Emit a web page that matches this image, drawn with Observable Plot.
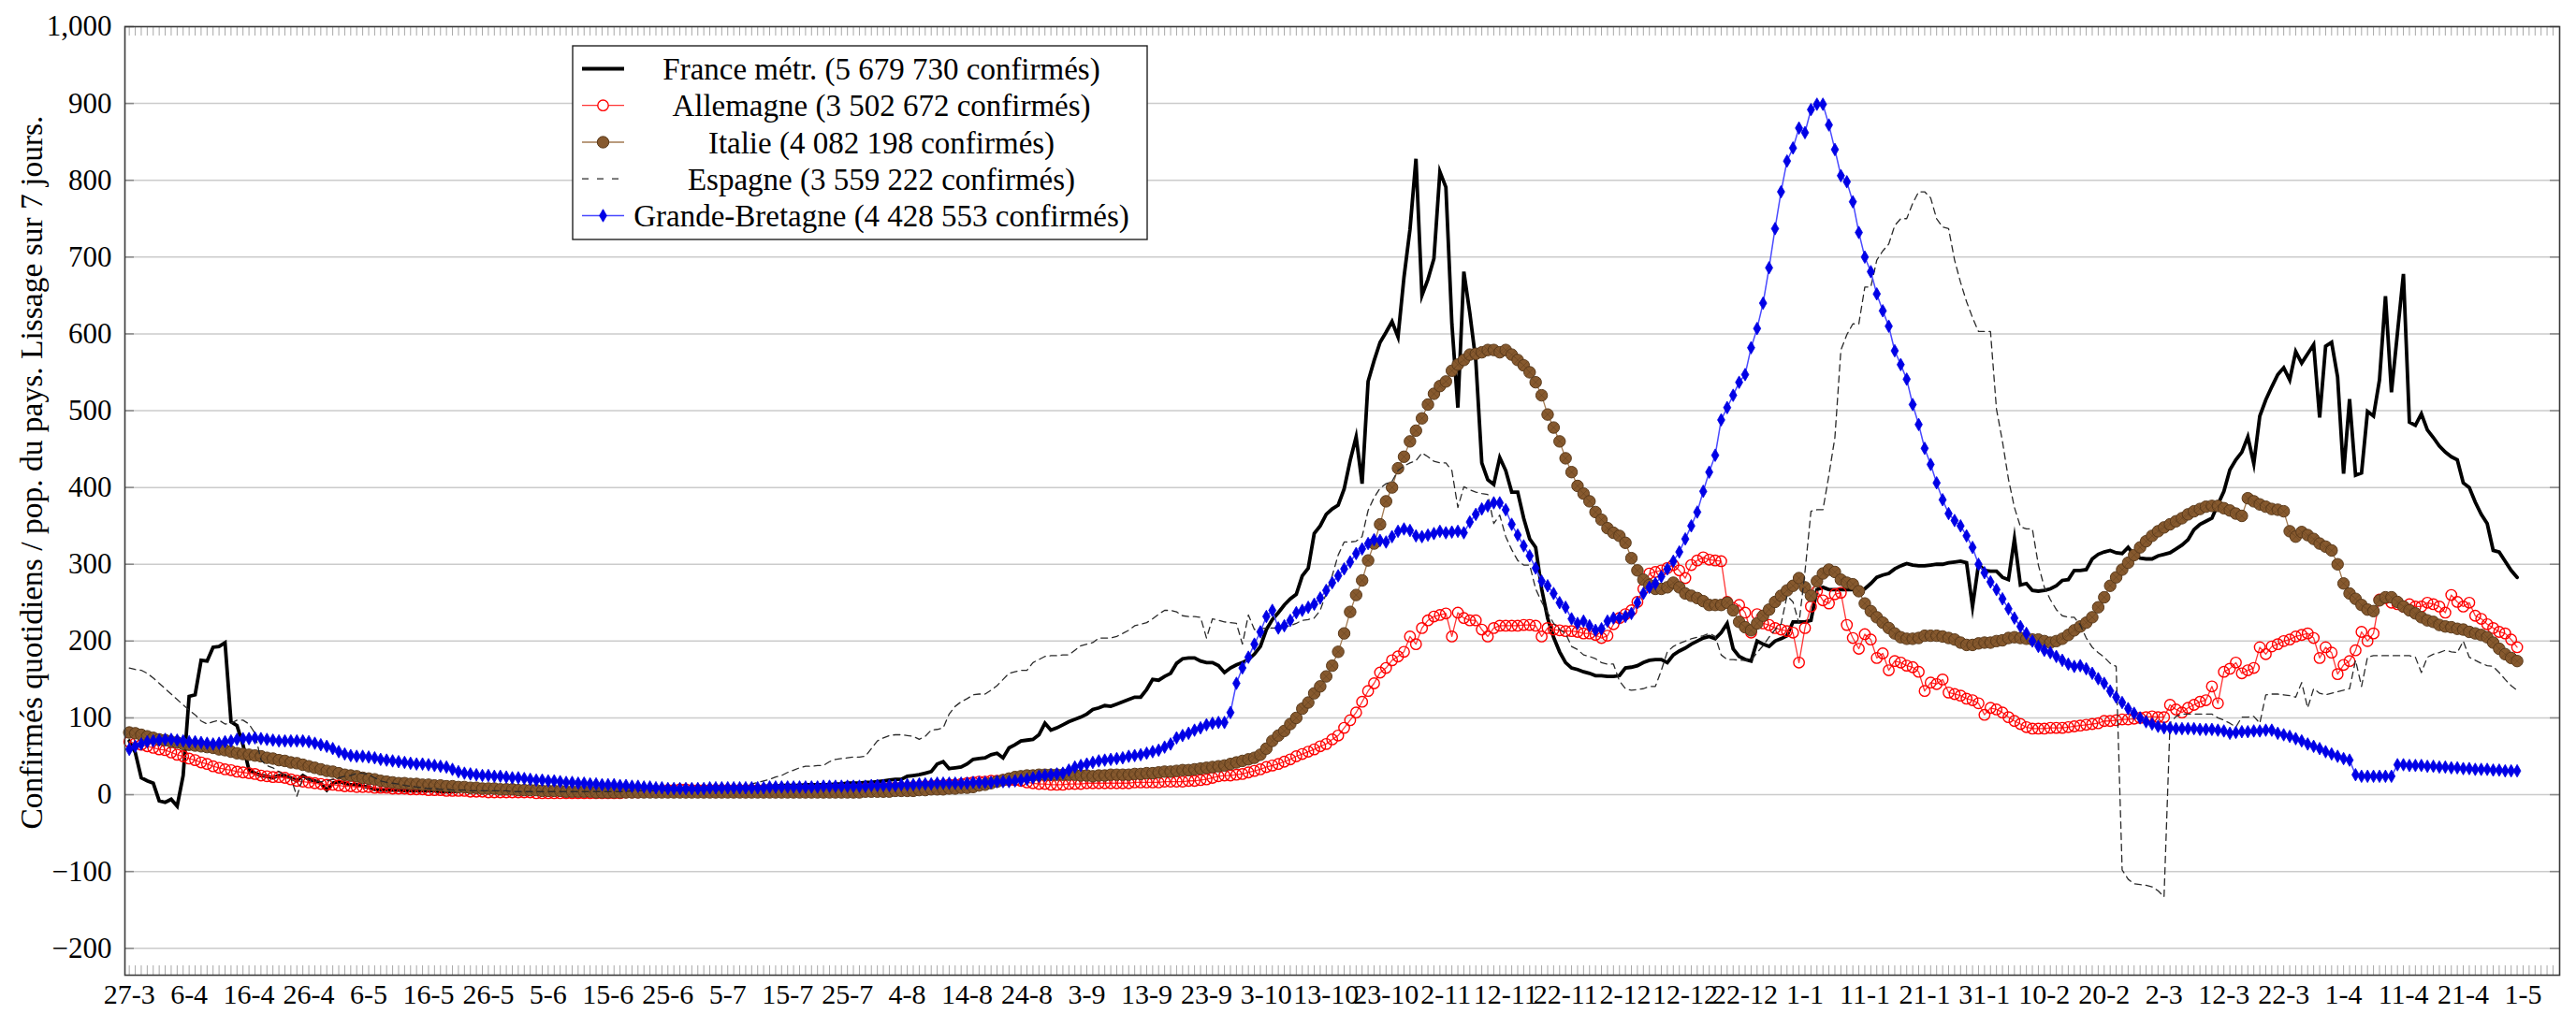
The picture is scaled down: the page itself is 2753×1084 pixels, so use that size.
<!DOCTYPE html>
<html>
<head>
<meta charset="utf-8">
<script src="https://cdn.jsdelivr.net/npm/d3@7"></script>
<script src="https://cdn.jsdelivr.net/npm/@observablehq/plot@0.6"></script>
<style>
  html, body { margin: 0; padding: 0; background: #fff; }
  #chart svg { display: block; }
</style>
</head>
<body>
<div id="chart"></div>
<script>
// ---- x tick labels (one every 10 days from 27-3-2020) ----
const xTickLabels = ["27-3","6-4","16-4","26-4","6-5","16-5","26-5","5-6","15-6","25-6","5-7","15-7","25-7","4-8","14-8","24-8","3-9","13-9","23-9","3-10","13-10","23-10","2-11","12-11","22-11","2-12","12-12","22-12","1-1","11-1","21-1","31-1","10-2","20-2","2-3","12-3","22-3","1-4","11-4","21-4","1-5"];
const yTicks = [-200,-100,0,100,200,300,400,500,600,700,800,900,1000];

const seriesNames = [
  "France métr. (5 679 730 confirmés)",
  "Allemagne (3 502 672 confirmés)",
  "Italie (4 082 198 confirmés)",
  "Espagne (3 559 222 confirmés)",
  "Grande-Bretagne (4 428 553 confirmés)"
];

// ---- daily values (per million, 7-day smoothing), day 0 = 27-3-2020 ----
const france = [
70,55,22,18,15,-8,-10,-6,-15,25,
128,130,175,174,192,193,198,95,90,65,
32,28,25,24,22,25,25,22,18,25,
20,18,15,6,15,17,15,13,13,11,
10,7,6,6,6,6,5,5,5,5,
5,5,4,4,4,5,5,4,4,4,
5,5,4,4,4,4,3,3,3,3,
3,3,3,3,3,3,3,3,3,3,
3,3,3,4,4,4,4,4,5,5,
5,5,6,6,6,7,7,7,8,8,
8,9,9,10,10,10,11,11,11,12,
12,12,12,13,13,13,13,13,14,14,
15,15,15,16,16,17,18,19,20,20,
24,25,26,28,30,40,43,34,35,36,
40,46,47,48,52,54,48,61,65,70,
71,72,78,93,84,87,91,95,98,101,
105,111,113,116,115,118,121,124,127,127,
137,150,149,154,158,171,177,178,178,174,
172,172,168,159,165,169,172,176,183,193,
215,228,237,247,255,261,285,295,340,350,
365,372,377,398,435,466,405,538,565,589,
602,616,596,674,736,828,650,671,698,811,
791,613,504,681,627,565,432,410,404,439,
422,394,394,360,333,322,268,230,205,186,
172,165,163,160,158,155,155,154,154,155,
165,166,168,172,175,176,176,172,182,187,
191,196,200,204,206,203,211,223,190,180,
176,174,200,196,193,200,203,207,225,225,
225,227,267,270,267,267,267,267,267,267,
268,275,283,286,288,294,298,301,299,298,
298,299,300,300,302,303,304,302,245,300,
292,291,291,283,280,333,273,275,266,265,
266,268,272,279,280,292,292,293,307,313,
316,318,315,314,322,312,308,307,307,311,
313,315,320,325,332,345,352,356,360,378,
395,423,436,446,466,431,493,514,531,547,
556,540,577,562,574,586,491,584,589,544,
418,515,416,419,499,493,540,649,524,601,
678,485,481,496,475,465,454,446,440,436,
406,400,381,365,353,318,316,304,292,283
];

const allemagne = [
69,67,65,63,61,59,58,55,52,50,
47,45,42,40,37,35,33,32,30,29,
28,27,25,24,23,23,22,20,18,17,
16,15,14,13,13,12,11,11,10,10,
10,9,9,9,8,8,8,7,7,7,
6,6,6,5,5,5,5,4,4,4,
3,3,3,3,3,3,3,3,2,2,
2,2,2,2,2,2,2,2,2,2,
2,2,2,3,3,3,4,4,5,5,
6,6,7,7,6,6,6,6,6,6,
6,6,6,6,6,6,6,6,6,6,
6,6,6,6,6,6,6,6,7,7,
7,7,7,8,8,8,8,9,9,9,
9,10,10,11,11,12,12,13,13,14,
15,16,17,17,18,18,19,19,19,18,
16,15,14,14,13,13,13,14,14,14,
15,15,15,15,15,15,15,15,16,16,
16,16,16,17,17,17,17,18,18,19,
20,22,24,25,25,26,27,29,31,33,
36,38,40,43,46,50,53,56,59,63,
66,72,77,87,97,107,121,135,145,159,
165,175,180,186,206,196,217,227,232,234,
236,206,237,230,227,227,215,206,217,220,
220,220,220,221,221,220,206,217,215,214,
213,213,212,210,210,208,204,207,222,230,
235,240,251,268,288,290,292,295,299,292,
282,299,305,309,306,305,304,251,243,247,
237,211,235,223,221,217,215,213,211,172,
217,245,265,253,249,261,263,221,204,190,
209,202,178,184,162,174,172,168,166,160,
135,146,144,150,133,131,129,125,123,119,
104,113,111,107,101,96,92,88,86,86,
86,87,87,87,88,89,90,91,92,93,
96,96,97,98,98,99,100,101,102,101,
101,117,111,107,113,117,121,123,141,119,
160,164,172,158,162,165,192,183,193,196,
200,202,206,208,210,204,178,192,185,157,
169,174,188,212,200,210,254,256,250,248,
245,248,245,245,250,248,245,237,260,251,
245,250,233,229,222,217,212,210,202,192
];

const italie = [
81,80,78,76,74,72,71,69,68,66,
65,64,63,62,61,59,58,56,54,53,
52,51,50,48,47,45,44,42,41,39,
37,35,33,31,30,28,26,25,24,22,
21,20,18,17,16,15,15,14,14,13,
13,12,12,11,11,10,10,9,9,8,
8,8,7,7,7,6,6,6,6,5,
5,5,5,4,4,4,4,4,3,3,
3,3,3,3,3,3,3,3,3,3,
3,3,3,3,3,3,3,3,3,3,
3,3,3,3,3,3,3,3,3,3,
3,3,3,3,3,3,3,3,3,3,
3,3,3,4,4,4,4,4,5,5,
5,5,6,6,7,7,7,8,8,9,
9,10,12,13,15,17,19,21,23,24,
25,25,26,26,26,26,26,26,26,25,
25,24,25,25,26,26,26,26,27,27,
28,28,29,30,30,31,32,32,33,34,
35,36,37,38,40,42,44,46,48,52,
60,70,77,83,92,100,112,120,132,141,
154,168,186,210,238,260,279,305,327,352,
382,400,425,440,460,474,490,508,522,532,
538,552,560,566,573,574,576,579,579,576,
579,573,566,559,550,537,520,495,478,460,
438,420,402,392,382,368,358,347,341,337,
328,308,292,280,273,268,268,270,276,270,
262,259,256,252,247,247,247,250,240,225,
218,214,223,233,241,251,259,266,272,282,
270,259,278,288,293,290,280,276,274,265,
249,239,231,224,217,210,205,203,203,204,
207,207,207,206,204,202,198,195,195,197,
198,198,200,201,204,205,204,203,202,202,
200,198,200,203,208,214,219,224,231,244,
257,272,283,293,302,312,322,330,337,343,
348,352,356,360,365,369,372,375,376,376,
373,370,366,363,386,382,378,375,372,371,
369,343,336,342,338,333,327,323,318,300,
275,262,255,247,241,239,253,257,257,251,
245,240,236,231,227,225,221,219,218,216,
215,212,210,208,205,198,190,183,178,174
];

const espagne = [
165,163,162,158,152,145,138,131,124,117,
110,104,96,92,95,97,92,93,97,97,
92,80,45,38,35,30,25,22,-2,22,
20,18,17,18,20,22,24,25,28,28,
26,22,18,16,15,14,12,11,10,9,
8,8,7,7,6,6,6,5,5,5,
5,5,5,5,4,4,4,4,4,4,
4,4,4,4,4,4,4,4,4,4,
4,4,4,4,5,5,5,5,5,5,
5,5,5,5,5,5,6,6,6,6,
8,9,10,12,14,16,18,20,23,25,
29,32,35,37,37,38,38,43,46,47,
48,49,49,50,60,70,74,77,78,78,
77,76,72,76,84,85,87,105,115,121,
125,130,131,131,136,142,150,158,160,162,
162,172,176,180,181,181,182,182,188,194,
196,198,204,204,204,206,210,214,220,222,
224,229,235,240,240,238,233,232,232,231,
204,229,227,225,224,223,196,234,215,216,
217,217,217,218,220,223,227,228,230,240,
262,285,312,329,329,330,336,370,387,399,
405,408,422,428,432,435,445,440,434,432,
432,422,374,401,397,394,392,391,353,364,
336,319,305,299,299,268,251,237,223,215,
210,193,189,182,180,177,172,170,170,148,
138,136,137,138,141,141,162,186,193,197,
200,203,205,207,210,206,182,176,176,175,
175,175,185,194,205,215,222,259,251,223,
290,369,371,371,416,465,579,599,613,613,
661,661,696,708,717,741,750,750,770,785,
785,777,750,739,737,696,667,642,621,603,
603,603,502,460,411,374,349,346,346,299,
270,254,241,233,231,231,221,204,192,185,
179,171,167,-98,-110,-116,-117,-118,-120,-125,
-133,93,102,105,105,105,105,105,105,100,
97,93,88,101,101,102,93,130,131,131,
130,129,127,146,113,138,132,130,132,134,
136,138,175,141,179,181,181,181,181,181,
181,181,179,159,179,183,185,188,186,185,
200,179,175,171,168,167,159,150,142,136
];

const grandeBretagne = [
59,63,66,69,70,71,72,72,71,70,
69,69,68,67,66,67,69,70,72,73,
73,74,73,72,71,70,70,70,70,70,
69,67,65,63,60,56,53,51,50,50,
49,48,46,45,44,43,42,41,40,40,
39,38,37,36,33,30,28,27,26,25,
25,24,24,23,22,22,21,20,19,19,
18,18,17,16,16,15,15,14,14,13,
13,13,12,12,11,11,10,10,9,9,
8,8,8,8,8,8,8,9,9,9,
9,9,9,9,9,9,9,10,10,10,
10,10,10,10,10,10,11,11,11,11,
11,11,11,11,12,12,12,12,12,13,
13,13,14,14,14,15,15,15,15,15,
15,16,16,16,16,17,17,17,18,19,
20,22,24,25,26,27,28,32,36,38,
40,42,44,45,46,47,48,50,51,52,
54,56,58,62,66,74,77,80,84,87,
91,93,94,94,107,145,165,179,196,212,
232,240,217,220,227,237,240,244,248,256,
266,276,285,294,303,314,320,327,332,331,
329,336,343,346,344,337,336,338,340,343,
341,342,343,341,355,365,372,376,380,380,
371,352,338,324,311,295,278,272,262,250,
244,229,223,226,220,214,216,226,230,230,
232,236,250,262,270,275,284,294,304,316,
333,350,368,395,420,442,488,504,520,537,
547,582,607,640,686,737,785,825,842,868,
862,892,899,899,872,840,806,798,772,732,
700,681,652,630,610,578,560,541,508,482,
451,430,406,384,366,357,350,337,322,300,
289,277,267,255,242,230,219,210,200,193,
188,185,180,175,170,167,168,164,158,151,
145,135,127,120,112,106,100,95,92,89,
87,87,86,86,86,86,85,85,85,84,
83,80,81,82,82,83,83,84,84,80,
78,76,73,70,66,63,60,56,53,50,
47,45,26,24,24,24,24,24,24,39,
39,38,38,38,37,37,36,36,35,35,
34,34,33,33,33,32,32,31,31,31
];

const lens = [france, allemagne, italie, espagne, grandeBretagne].map(a => a.length);
if (lens.some(n => n !== 400)) throw new Error("series lengths: " + lens.join(","));

const days = d3.range(400);
const xTicks = d3.range(0, 401, 10);
const minorTicks = d3.range(0, 406);

const W = 2753, H = 1084;
const mL = 133, mR = 18, mT = 28, mB = 42;
const plotW = W - mL - mR, plotH = H - mT - mB;

const serif = "'Liberation Serif', 'Times New Roman', serif";
const colors = {
  france: "#000000",
  deLine: "#ff3535", deMark: "#ff0000",
  itLine: "#a27a52", itFill: "#86592e", itEdge: "#5a3a1b",
  es: "#2a2a2a",
  gbLine: "#4a4aff", gbMark: "#0000e6"
};
const gbR = 4.1;

const chart = Plot.plot({
  width: W, height: H,
  marginLeft: mL, marginRight: mR, marginTop: mT, marginBottom: mB,
  x: {type: "linear", domain: [-0.73, 406.1]},
  y: {domain: [-235, 1000]},
  style: {fontFamily: serif, fontSize: "30px", background: "#fff", color: "#000"},
  marks: [
    // horizontal grid
    Plot.ruleY(yTicks.filter(v => v < 1000), {y: d => d, stroke: "#cbcbcb", strokeWidth: 1.5}),
    // minor daily ticks (bottom and top, inward)
    Plot.ruleX(minorTicks, {x: d => d, insetTop: plotH - 10, stroke: "#a8a8a8", strokeWidth: 1}),
    Plot.ruleX(minorTicks, {x: d => d, insetBottom: plotH - 10, stroke: "#a8a8a8", strokeWidth: 1}),
    // y ticks (left and right, inward)
    Plot.ruleY(yTicks, {y: d => d, insetRight: plotW - 10, stroke: "#888", strokeWidth: 1.5}),
    Plot.ruleY(yTicks, {y: d => d, insetLeft: plotW - 10, stroke: "#888", strokeWidth: 1.5}),
    // axes labels
    Plot.axisX({ticks: xTicks, anchor: "bottom", tickSize: 0, tickPadding: 9,
      tickFormat: d => xTickLabels[Math.round(d / 10)], label: null, fontSize: 30}),
    Plot.axisY({ticks: yTicks, anchor: "left", tickSize: 0, tickPadding: 14,
      tickFormat: d3.format(","), label: null, fontSize: 31}),
    // France
    Plot.line(days, {x: d => d, y: d => france[d], stroke: colors.france, strokeWidth: 3.8,
      strokeLinejoin: "miter", strokeMiterlimit: 10}),
    // Allemagne
    Plot.line(days, {x: d => d, y: d => allemagne[d], stroke: colors.deLine, strokeWidth: 1.3}),
    Plot.dot(days, {x: d => d, y: d => allemagne[d], r: 5.7, stroke: colors.deMark, strokeWidth: 1.4, fill: "none"}),
    // Italie
    Plot.line(days, {x: d => d, y: d => italie[d], stroke: colors.itLine, strokeWidth: 1.3}),
    Plot.dot(days, {x: d => d, y: d => italie[d], r: 6.2, fill: colors.itFill, stroke: colors.itEdge, strokeWidth: 1}),
    Plot.dot(days, {x: d => d, y: d => italie[d], r: 3.6, symbol: "times", stroke: colors.itEdge, strokeWidth: 0.7, strokeOpacity: 0.6}),
    // Espagne
    Plot.line(days, {x: d => d, y: d => espagne[d], stroke: colors.es, strokeWidth: 1.3, strokeDasharray: "7,5"}),
    // Grande-Bretagne
    Plot.line(days, {x: d => d, y: d => grandeBretagne[d], stroke: colors.gbLine, strokeWidth: 1.5}),
    Plot.dot(days, {x: d => d, y: d => grandeBretagne[d], r: gbR, symbol: "diamond", fill: colors.gbMark, stroke: colors.gbMark, strokeWidth: 0.8}),
    Plot.frame({stroke: "#3a3a3a", strokeWidth: 1.6})
  ]
});

document.getElementById("chart").appendChild(chart);
const svg = d3.select(chart);

// y-axis title
svg.append("text")
  .attr("transform", "translate(33,505) rotate(-90)")
  .attr("text-anchor", "middle")
  .attr("dy", "0.35em")
  .attr("font-family", serif)
  .attr("font-size", 33.5)
  .attr("fill", "#000")
  .text("Confirmés quotidiens / pop. du pays. Lissage sur 7 jours.");

// legend
const lg = svg.append("g").attr("font-family", serif).attr("font-size", 33);
lg.append("rect").attr("x", 612).attr("y", 49).attr("width", 614).attr("height", 207)
  .attr("fill", "#fff").attr("stroke", "#222").attr("stroke-width", 1.4);
const rowY = [73.5, 112.7, 152, 191.2, 230.5];
const sx1 = 622, sx2 = 667, sxm = 644.5;
seriesNames.forEach((name, i) => {
  const y = rowY[i];
  const g = lg.append("g");
  if (i === 0) {
    g.append("line").attr("x1", sx1).attr("x2", sx2).attr("y1", y).attr("y2", y)
      .attr("stroke", colors.france).attr("stroke-width", 3.8);
  } else if (i === 1) {
    g.append("line").attr("x1", sx1).attr("x2", sx2).attr("y1", y).attr("y2", y)
      .attr("stroke", colors.deLine).attr("stroke-width", 1.3);
    g.append("circle").attr("cx", sxm).attr("cy", y).attr("r", 5.7)
      .attr("fill", "#fff").attr("stroke", colors.deMark).attr("stroke-width", 1.4);
  } else if (i === 2) {
    g.append("line").attr("x1", sx1).attr("x2", sx2).attr("y1", y).attr("y2", y)
      .attr("stroke", colors.itLine).attr("stroke-width", 1.3);
    g.append("circle").attr("cx", sxm).attr("cy", y).attr("r", 6.2)
      .attr("fill", colors.itFill).attr("stroke", colors.itEdge).attr("stroke-width", 1);
  } else if (i === 3) {
    g.append("line").attr("x1", sx1).attr("x2", sx2).attr("y1", y).attr("y2", y)
      .attr("stroke", colors.es).attr("stroke-width", 1.3).attr("stroke-dasharray", "7,9");
  } else {
    g.append("line").attr("x1", sx1).attr("x2", sx2).attr("y1", y).attr("y2", y)
      .attr("stroke", colors.gbLine).attr("stroke-width", 1.5);
    g.append("path").attr("transform", `translate(${sxm},${y})`)
      .attr("d", d3.symbol(d3.symbolDiamond, gbR * gbR * Math.PI)())
      .attr("fill", colors.gbMark).attr("stroke", colors.gbMark).attr("stroke-width", 0.8);
  }
  g.append("text").attr("x", 942).attr("y", y).attr("dy", "0.35em")
    .attr("text-anchor", "middle").attr("fill", "#000").text(name);
});
</script>
</body>
</html>
